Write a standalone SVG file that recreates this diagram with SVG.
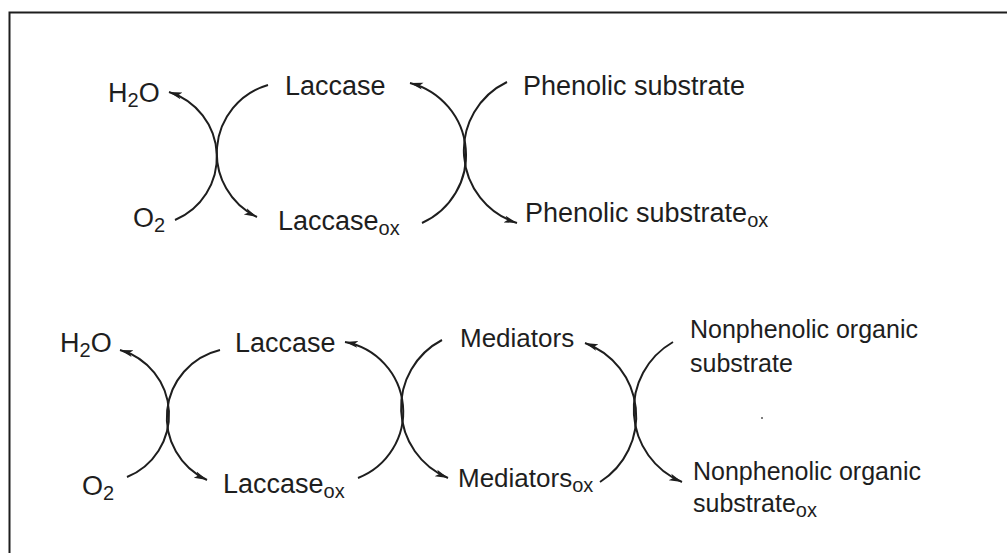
<svg xmlns="http://www.w3.org/2000/svg" width="1007" height="553" viewBox="0 0 1007 553">
<style>
text{font-family:"Liberation Sans",Arial,sans-serif;fill:#1e1e1e;font-size:27px}
.sub{font-size:20px}
.arc{fill:none;stroke:#1e1e1e;stroke-width:2;marker-end:url(#ah)}
.frame{stroke:#1e1e1e;stroke-width:2;fill:none}
</style>
<defs>
<marker id="ah" markerUnits="userSpaceOnUse" markerWidth="14" markerHeight="10" refX="13" refY="5" orient="auto">
<path d="M0,1.5 L13,5 L0,8.5 L3,5 z" fill="#1e1e1e"/>
</marker>
</defs>
<rect width="1007" height="553" fill="#fff"/>
<path class="frame" d="M9.5,553 V12.5 H1007"/>
<g id="connectors">
<path class="arc" d="M175,220 A68.2,68.2 0 0 0 169,92"/>
<path class="arc" d="M268,85 A70.9,70.9 0 0 0 257,217"/>
<path class="arc" d="M422,223 A74.4,74.4 0 0 0 410,83"/>
<path class="arc" d="M507,82 A76,76 0 0 0 517,223"/>
<path class="arc" d="M127,477 A67.2,67.2 0 0 0 120,350"/>
<path class="arc" d="M220,350 A69.1,69.1 0 0 0 207,480"/>
<path class="arc" d="M358,478 A71,71 0 0 0 345,342"/>
<path class="arc" d="M442,340 A76.3,76.3 0 0 0 448,478"/>
<path class="arc" d="M600,482 A77.9,77.9 0 0 0 585,343"/>
<path class="arc" d="M673,342 A78.2,78.2 0 0 0 682,482"/>
</g>
<g id="h2o-top"><text x="108" y="102">H<tspan class="sub" dy="5">2</tspan><tspan dy="-5">O</tspan></text></g>
<g id="o2-top"><text x="133" y="227">O<tspan class="sub" dy="5">2</tspan></text></g>
<g id="laccase-top"><text x="285" y="95">Laccase</text></g>
<g id="laccaseox-top"><text x="278" y="230">Laccase<tspan class="sub" dy="5">ox</tspan></text></g>
<g id="phenolic"><text x="523" y="95">Phenolic substrate</text></g>
<g id="phenolicox"><text x="525" y="222">Phenolic substrate<tspan class="sub" dy="5">ox</tspan></text></g>
<g id="h2o-bottom"><text x="60" y="352">H<tspan class="sub" dy="5">2</tspan><tspan dy="-5">O</tspan></text></g>
<g id="o2-bottom"><text x="82" y="495">O<tspan class="sub" dy="5">2</tspan></text></g>
<g id="laccase-bottom"><text x="235" y="352">Laccase</text></g>
<g id="laccaseox-bottom"><text x="223" y="493">Laccase<tspan class="sub" dy="5">ox</tspan></text></g>
<g id="mediators"><text x="460" y="347" style="font-size:26px">Mediators</text></g>
<g id="mediatorsox"><text x="458" y="487" style="font-size:26px">Mediators<tspan class="sub" dy="5">ox</tspan></text></g>
<g id="nonphenolic"><text x="690" y="338" style="font-size:25px">Nonphenolic organic</text><text x="690" y="372" style="font-size:25px">substrate</text></g>
<g id="nonphenolicox"><text x="693" y="480" style="font-size:25px">Nonphenolic organic</text><text x="693" y="512" style="font-size:25px">substrate<tspan class="sub" dy="5">ox</tspan></text></g>
<circle cx="762" cy="418" r="1" fill="#555"/>
</svg>
